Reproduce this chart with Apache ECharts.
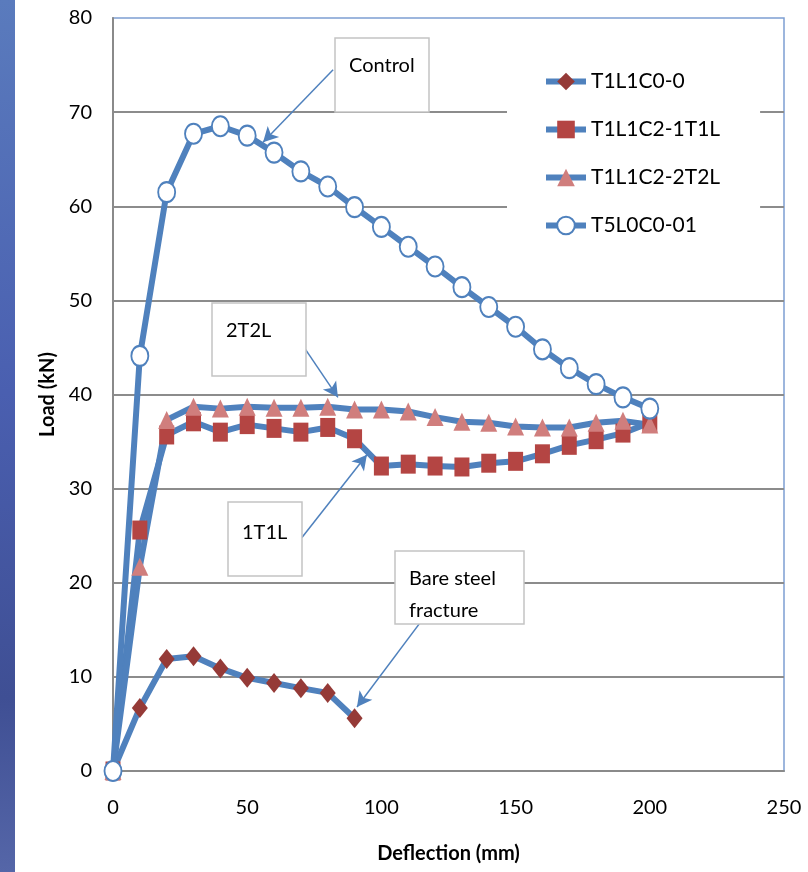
<!DOCTYPE html>
<html>
<head>
<meta charset="utf-8">
<script src="https://cdn.jsdelivr.net/npm/echarts@6/dist/echarts.min.js"></script>
<style>
  html, body { margin: 0; padding: 0; background: #fff; }
  #chart { width: 808px; height: 872px; }
</style>
</head>
<body>
<div id="chart"></div>
<script>
const seriesNames = ["T1L1C0-0", "T1L1C2-1T1L", "T1L1C2-2T2L", "T5L0C0-01"];

// deflection (mm) at each reading
const deflectionBare = [0, 10, 20, 30, 40, 50, 60, 70, 80, 90];
const deflectionFull = [0, 10, 20, 30, 40, 50, 60, 70, 80, 90, 100,
	110, 120, 130, 140, 150, 160, 170, 180, 190, 200];

// load (kN)
const loadBare = [0, 6.7, 11.9, 12.2, 10.9, 9.9, 9.35, 8.8, 8.3, 5.6];
const load1T1L = [0, 25.6, 35.7, 37.1, 36.0, 36.8, 36.4, 36.0, 36.5, 35.3, 32.4,
	32.6, 32.4, 32.3, 32.7, 32.9, 33.7, 34.6, 35.2, 35.9, 37.0];
const load2T2L = [0, 21.7, 37.3, 38.7, 38.5, 38.7, 38.6, 38.6, 38.7, 38.4, 38.4,
	38.2, 37.6, 37.1, 37.0, 36.6, 36.5, 36.5, 37.0, 37.2, 36.8];
const loadControl = [0, 44.1, 61.5, 67.7, 68.5, 67.5, 65.7, 63.7, 62.1, 59.9, 57.8,
	55.7, 53.6, 51.4, 49.3, 47.2, 44.8, 42.8, 41.1, 39.7, 38.5];

// callout arrows, in data units [deflection, load]
const calloutLines = [["Control"], ["2T2L"], ["1T1L"], ["Bare steel", "fracture"]];
const arrowFrom = [[82.0, 74.5], [71.2, 45.0], [70.4, 24.8], [114.8, 15.9]];
const arrowTo = [[55.9, 66.8], [83.8, 39.7], [94.6, 33.6], [90.9, 6.8]];

// callout box layout (pixels): x, y, w, h, first text line centre
const calloutBoxes = [
	[335, 38, 94, 74, 66],
	[212, 303, 94, 73, 331],
	[228, 502, 74, 74, 533],
	[395, 551, 129, 73, 579]
];

const lineBlue = "#4f81bd";
const font = "Lato, 'Open Sans', sans-serif";

const pairs = (xs, ys) => xs.map((x, i) => [x, ys[i]]);

var chart = echarts.init(document.getElementById("chart"), null, { renderer: "canvas" });

const baseSeries = (name, data, symbol, size, itemStyle) => ({
	name: name,
	type: "line",
	data: data,
	symbol: symbol,
	symbolSize: size,
	showAllSymbol: true,
	lineStyle: { color: lineBlue, width: 6 },
	itemStyle: itemStyle,
	emphasis: { disabled: true },
	z: 3
});

const calloutGraphics = calloutBoxes.map((b, i) => ({
	type: "group",
	z: 50,
	children: [
		{
			type: "rect",
			z: 50,
			shape: { x: b[0], y: b[1], width: b[2], height: b[3] },
			style: { fill: "#fff", stroke: "#c4c4c4", lineWidth: 1.5 }
		}
	].concat(calloutLines[i].map((t, j) => ({
		type: "text",
		z: 51,
		x: b[0] + 14,
		y: b[4] + j * 32,
		style: {
			text: t,
			fill: "#000",
			font: "20px " + font,
			verticalAlign: "middle"
		}
	})))
}));

var option = {
	animation: false,
	backgroundColor: "#fff",
	grid: {
		left: 113,
		right: 24,
		top: 18,
		bottom: 101,
		show: true,
		borderColor: "#7d9fd2",
		borderWidth: 1.5,
		outerBoundsMode: "none"
	},
	legend: {
		data: seriesNames,
		orient: "vertical",
		left: 507,
		top: 58,
		padding: [13, 40, 16, 36],
		backgroundColor: "#fff",
		itemWidth: 40,
		itemHeight: 22,
		itemGap: 27,
		lineStyle: { width: 6 },
		textStyle: { fontFamily: font, fontSize: 21, color: "#000" },
		z: 40
	},
	xAxis: {
		type: "value",
		min: 0,
		max: 250,
		interval: 50,
		name: "Deflection (mm)",
		nameLocation: "middle",
		nameGap: 73,
		nameTextStyle: { fontFamily: font, fontSize: 20, fontWeight: "bold", color: "#000" },
		axisLine: { show: true, onZero: false, lineStyle: { color: "#8a8a8a", width: 2 } },
		axisTick: { show: false },
		axisLabel: { fontFamily: font, fontSize: 20, color: "#000", margin: 27 },
		splitLine: { show: false }
	},
	yAxis: {
		type: "value",
		min: 0,
		max: 80,
		interval: 10,
		name: "Load (kN)",
		nameLocation: "middle",
		nameGap: 54,
		nameTextStyle: { fontFamily: font, fontSize: 20, fontWeight: "bold", color: "#000" },
		axisLine: { show: true, onZero: false, lineStyle: { color: "#8a8a8a", width: 2 } },
		axisTick: { show: false },
		axisLabel: { fontFamily: font, fontSize: 20, color: "#000", margin: 21 },
		splitLine: { show: true, showMaxLine: false, lineStyle: { color: "#8c8c8c", width: 2 } }
	},
	graphic: [
		{
			type: "rect",
			shape: { x: 0, y: 0, width: 15, height: 872 },
			style: {
				fill: new echarts.graphic.LinearGradient(0, 0, 0, 1, [
					{ offset: 0, color: "#5a7bbd" },
					{ offset: 0.45, color: "#4a5fb0" },
					{ offset: 0.8, color: "#3f4f94" },
					{ offset: 1, color: "#5566a8" }
				])
			},
			z: 0
		}
	].concat(calloutGraphics),
	series: [
		baseSeries(seriesNames[0], pairs(deflectionBare, loadBare), "diamond", [16, 20],
			{ color: "#953a37" }),
		baseSeries(seriesNames[1], pairs(deflectionFull, load1T1L), "rect", [15, 19],
			{ color: "#b44543" }),
		baseSeries(seriesNames[2], pairs(deflectionFull, load2T2L), "triangle", [17, 18],
			{ color: "#d07e7d" }),
		Object.assign(
			baseSeries(seriesNames[3], pairs(deflectionFull, loadControl), "circle", [17, 20],
				{ color: "#fff", borderColor: lineBlue, borderWidth: 2 }),
			{
				markLine: {
					silent: true,
					symbol: ["none", "arrow"],
					symbolSize: [12, 15],
					label: { show: false },
					lineStyle: { color: lineBlue, width: 1.5, type: "solid" },
					emphasis: { disabled: true },
					data: arrowFrom.map((f, i) => [{ coord: f }, { coord: arrowTo[i] }])
				}
			}
		)
	]
};

chart.setOption(option);
</script>
</body>
</html>
